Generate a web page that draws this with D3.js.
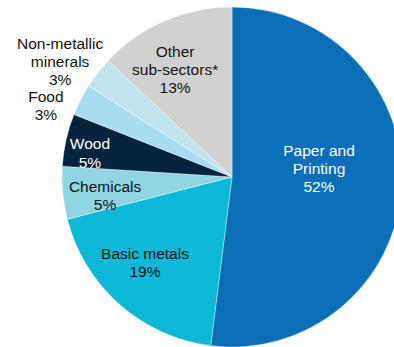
<!DOCTYPE html>
<html>
<head>
<meta charset="utf-8">
<script src="https://cdn.jsdelivr.net/npm/d3@7"></script>
<style>
  html, body { margin: 0; padding: 0; background: #fff; }
  svg { display: block; }
</style>
</head>
<body>
<div id="chart"></div>
<script>
// Data, clockwise from 12 o'clock
const categories = ["Paper and Printing", "Basic metals", "Chemicals", "Wood", "Food", "Non-metallic minerals", "Other sub-sectors*"];
const shares = [52, 19, 5, 5, 3, 3, 13];
const labelLines = [
    ["Paper and", "Printing", "52%"],
    ["Basic metals", "19%"],
    ["Chemicals", "5%"],
    ["Wood", "5%"],
    ["Food", "3%"],
    ["Non-metallic", "minerals", "3%"],
    ["Other", "sub-sectors*", "13%"]
];
const colors = ["#0b6fb8", "#0cb8d5", "#8fd5e2", "#04233f", "#a9dcf1", "#c0e5ee", "#d1d1d1"];
const textColors = ["#fff", "#111", "#111", "#fff", "#111", "#111", "#111"];

const width = 394, height = 347;
const cx = 232, cy = 177, radius = 170;

const svg = d3.select("#chart")
    .append("svg")
    .attr("width", width)
    .attr("height", height);

const g = svg.append("g")
    .attr("transform", `translate(${cx}, ${cy})`);

const data = categories.map((c, i) => ({ name: c, value: shares[i], lines: labelLines[i], i: i }));

const pie = d3.pie()
    .value(d => d.value)
    .sort(null);

const arc = d3.arc()
    .innerRadius(0)
    .outerRadius(radius);

const arcs = pie(data);

g.selectAll("path")
    .data(arcs)
    .join("path")
    .attr("d", arc)
    .attr("fill", d => colors[d.data.i])
    .attr("stroke", "#ffffff")
    .attr("stroke-opacity", 0.6)
    .attr("stroke-width", 0.6);

// label placement: fraction of radius and angle shift (degrees) from the slice middle
const labelRadius = [0.514, 0.72, 0.755, 0.847, 1.172, 1.217, 0.713];
const labelShift = [-8.9, 3.9, -3.1, -3.2, -6.1, -4.0, -4.6];
const lineH = 18.3;

const labels = g.selectAll("text.lbl")
    .data(arcs)
    .join("text")
    .attr("class", "lbl")
    .attr("text-anchor", "middle")
    .style("font-family", "Liberation Sans, Arial, sans-serif")
    .style("font-size", "15.5px")
    .attr("fill", d => textColors[d.data.i]);

labels.each(function (d) {
    const mid = (d.startAngle + d.endAngle) / 2 + labelShift[d.data.i] * Math.PI / 180;
    const r = radius * labelRadius[d.data.i];
    const x = Math.sin(mid) * r;
    const y = -Math.cos(mid) * r;
    const n = d.data.lines.length;
    const y0 = y - (n - 1) * lineH / 2 + 5;
    d3.select(this).selectAll("tspan")
        .data(d.data.lines)
        .join("tspan")
        .attr("x", x)
        .attr("y", (t, k) => y0 + k * lineH)
        .text(t => t);
});
</script>
</body>
</html>
